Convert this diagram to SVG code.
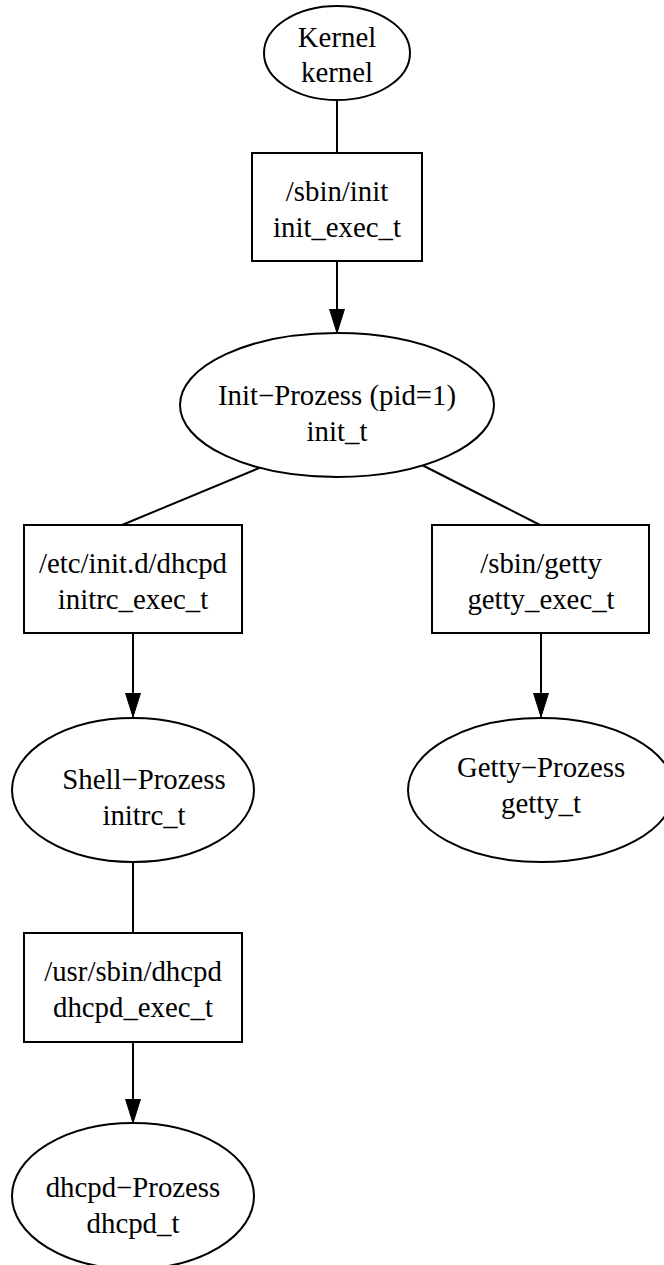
<svg xmlns="http://www.w3.org/2000/svg" width="664" height="1265" viewBox="0 0 664 1265">
<defs>
<marker id="arr" markerWidth="24" markerHeight="16" refX="24" refY="8" orient="auto" markerUnits="userSpaceOnUse">
<path d="M0,0.5 L24,8 L0,15.5 Z" fill="#000" stroke="#000" stroke-width="1"/>
</marker>
</defs>
<style>
.n{fill:#fff;stroke:#000;stroke-width:2}
.e{fill:none;stroke:#000;stroke-width:2}
text{font-family:"Liberation Serif","Times New Roman",serif;font-size:28.8px;fill:#000;text-anchor:middle}
</style>
<rect width="664" height="1265" fill="#fff"/>
<g id="edges">
<line class="e" x1="337" y1="100" x2="337" y2="153"/>
<line class="e" x1="337" y1="261" x2="337" y2="333" marker-end="url(#arr)"/>
<line class="e" x1="264" y1="466" x2="122" y2="525"/>
<line class="e" x1="422" y1="465" x2="540" y2="525"/>
<line class="e" x1="133" y1="633" x2="133" y2="717" marker-end="url(#arr)"/>
<line class="e" x1="541" y1="633" x2="541" y2="717" marker-end="url(#arr)"/>
<line class="e" x1="133" y1="862" x2="133" y2="933"/>
<line class="e" x1="133" y1="1042" x2="133" y2="1123" marker-end="url(#arr)"/>
</g>
<g id="kernel">
<ellipse class="n" cx="337" cy="53" rx="73" ry="47"/>
<text x="337" y="47">Kernel</text>
<text x="337" y="82">kernel</text>
</g>
<g id="sbin_init">
<rect class="n" x="252" y="153" width="170" height="108"/>
<text x="337" y="201">/sbin/init</text>
<text x="337" y="237">init_exec_t</text>
</g>
<g id="init_process">
<ellipse class="n" cx="337" cy="405" rx="157" ry="72"/>
<text x="337" y="405">Init−Prozess (pid=1)</text>
<text x="337" y="441">init_t</text>
</g>
<g id="initd_dhcpd">
<rect class="n" x="24" y="525" width="218" height="108"/>
<text x="133" y="573">/etc/init.d/dhcpd</text>
<text x="133" y="609">initrc_exec_t</text>
</g>
<g id="sbin_getty">
<rect class="n" x="432" y="525" width="217" height="108"/>
<text x="541" y="573">/sbin/getty</text>
<text x="541" y="609">getty_exec_t</text>
</g>
<g id="shell_process">
<ellipse class="n" cx="133" cy="790" rx="121" ry="72"/>
<text x="144" y="789">Shell−Prozess</text>
<text x="144" y="825">initrc_t</text>
</g>
<g id="getty_process">
<ellipse class="n" cx="541" cy="790" rx="133" ry="72"/>
<text x="541" y="777">Getty−Prozess</text>
<text x="541" y="813">getty_t</text>
</g>
<g id="usr_sbin_dhcpd">
<rect class="n" x="24" y="933" width="218" height="109"/>
<text x="133" y="981">/usr/sbin/dhcpd</text>
<text x="133" y="1017">dhcpd_exec_t</text>
</g>
<g id="dhcpd_process">
<ellipse class="n" cx="133" cy="1196" rx="121" ry="73"/>
<text x="133" y="1197">dhcpd−Prozess</text>
<text x="133" y="1233">dhcpd_t</text>
</g>
</svg>
